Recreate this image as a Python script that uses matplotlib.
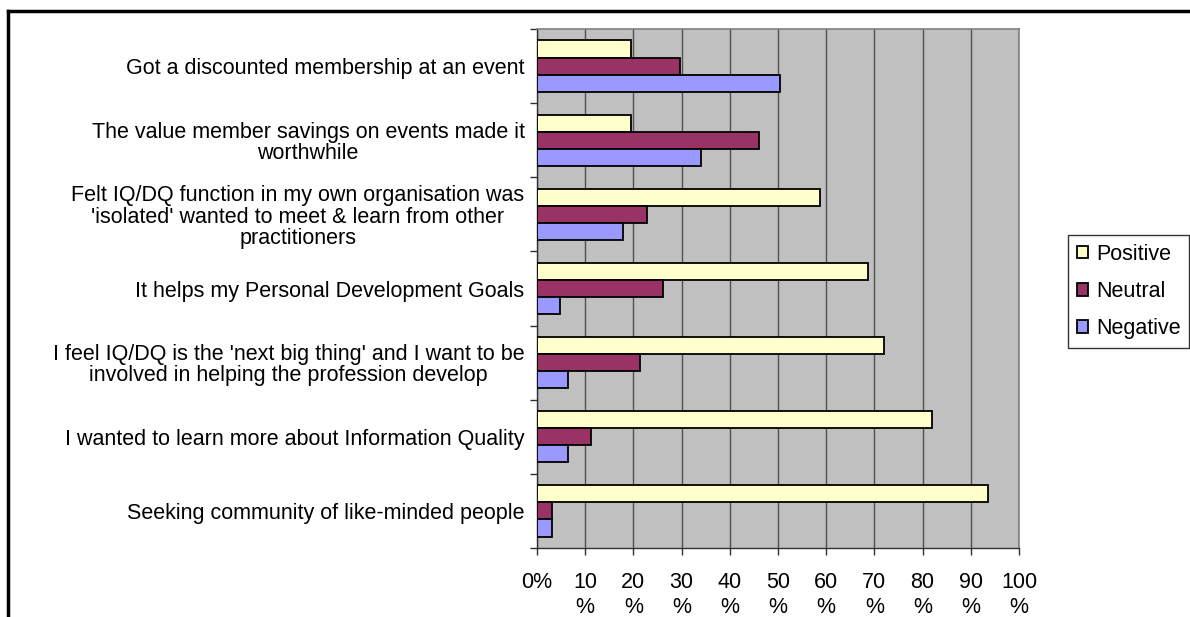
import matplotlib
matplotlib.use("Agg")
import matplotlib.pyplot as plt
from matplotlib.lines import Line2D
import numpy as np

plt.rcParams['font.family'] = ['Liberation Sans', 'DejaVu Sans']

categories = [
    "Got a discounted membership at an event",
    "The value member savings on events made it\nworthwhile",
    "Felt IQ/DQ function in my own organisation was\n'isolated' wanted to meet & learn from other\npractitioners",
    "It helps my Personal Development Goals",
    "I feel IQ/DQ is the 'next big thing' and I want to be\ninvolved in helping the profession develop",
    "I wanted to learn more about Information Quality",
    "Seeking community of like-minded people",
]
positive = [19.5, 19.5, 58.8, 68.7, 72.0, 82.0, 93.6]
neutral = [29.6, 46.0, 22.8, 26.1, 21.3, 11.3, 3.1]
negative = [50.5, 34.1, 17.8, 4.8, 6.4, 6.4, 3.1]
series_names = ["Positive", "Neutral", "Negative"]
colors = ["#FFFFCC", "#993366", "#9999FF"]
xtick_labels = ["0%"] + ["%d\n%%" % v for v in range(10, 101, 10)]

FS = 15.5

fig = plt.figure(figsize=(11.9, 6.17), dpi=100)
ax = fig.add_axes([537 / 1190, 1 - 548 / 617, (1019 - 537) / 1190, (548 - 29) / 617])
ax.set_facecolor("#C0C0C0")

y = np.arange(len(categories))
h = 0.23
for i, (vals, name, c) in enumerate(zip([positive, neutral, negative], series_names, colors)):
    ax.barh(y + (i - 1) * h, vals, height=h, color=c, edgecolor="black",
            linewidth=1.3, label=name, zorder=3)

ax.set_xlim(0, 100)
ax.set_ylim(len(categories) - 0.5, -0.5)
ax.set_xticks(np.arange(0, 101, 10))
ax.set_xticklabels(xtick_labels, fontsize=FS, va="top", linespacing=1.3)
ax.xaxis.grid(True, color="#505050", linewidth=1.0, zorder=1)
ax.set_axisbelow(True)

ax.set_yticks(y)
ax.set_yticklabels(categories, fontsize=FS, multialignment="center", linespacing=1.02)
ax.set_yticks(np.arange(-0.5, len(categories), 1), minor=True)
ax.tick_params(axis="y", which="major", length=0, pad=9)
ax.tick_params(axis="y", which="minor", length=5, width=1, color="#303030")
ax.tick_params(axis="x", length=5, width=1, color="#303030", pad=12)

for side in ["top", "right"]:
    ax.spines[side].set_color("#808080")
    ax.spines[side].set_linewidth(1.2)
for side in ["left", "bottom"]:
    ax.spines[side].set_color("#303030")
    ax.spines[side].set_linewidth(1.0)

leg = fig.legend(loc="upper left", bbox_to_anchor=(1068 / 1190, 1 - 235 / 617),
                 fontsize=FS, frameon=True, fancybox=False, handlelength=0.55,
                 handleheight=0.55, handletextpad=0.35, borderpad=0.4,
                 labelspacing=0.75, borderaxespad=0)
leg.get_frame().set_edgecolor("black")
leg.get_frame().set_linewidth(1.0)

# outer chart frame (top and left edges visible)
fig.add_artist(Line2D([8 / 1190, 1], [1 - 11 / 617, 1 - 11 / 617], color="black", linewidth=2.5))
fig.add_artist(Line2D([8 / 1190, 8 / 1190], [0, 1 - 11 / 617], color="black", linewidth=2.5))

fig.savefig("out.png", dpi=100)
